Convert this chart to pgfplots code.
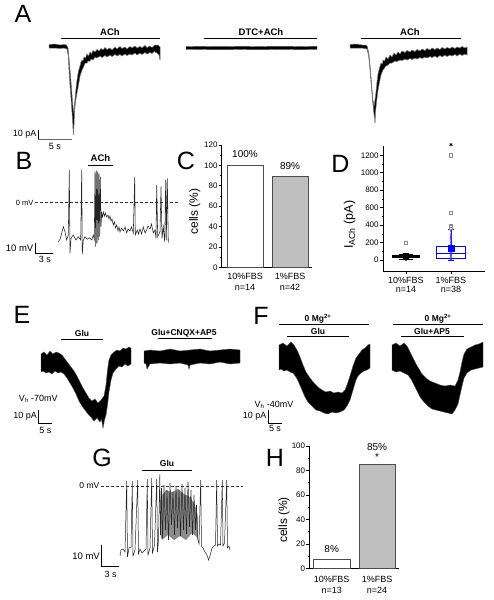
\documentclass[border=0pt]{standalone}
\usepackage{fontspec}
\setmainfont{Liberation Sans}
\usepackage{pgfplots}
\pgfplotsset{compat=1.18}
\usepgfplotslibrary{statistics}
\tikzset{
 plab/.style={font=\fontsize{25}{25}\selectfont, inner sep=0pt},
 blab/.style={font=\fontsize{9.5}{10}\selectfont\bfseries, inner sep=0pt},
 glab/.style={font=\fontsize{8.5}{9}\selectfont\bfseries, inner sep=0pt},
 slab/.style={font=\fontsize{9}{9}\selectfont, inner sep=0pt},
}
\pgfplotsset{
 smallax/.style={scale only axis, axis lines*=left, axis line style={-, black, line width=0.7pt},
   tick align=outside, major tick length=3pt, minor tick length=1.8pt,
   tick style={black, line width=0.6pt},
   /pgf/number format/assume math mode=true,
   /pgf/number format/1000 sep={},
   yticklabel style={font=\fontsize{8}{8}\selectfont, inner sep=1pt},
   xticklabel style={align=center, font=\fontsize{9}{10.5}\selectfont, inner sep=0pt},
   clip=false},
}
\begin{document}
\begin{tikzpicture}
% ---------------- canvas for traces ----------------
\begin{axis}[at={(0pt,0pt)}, anchor=south west, width=493pt, height=600pt, scale only axis,
  xmin=0, xmax=493, ymin=0, ymax=600, y dir=reverse, hide axis, clip=false]
% ===== A =====
\node[plab] at (axis cs:23,14) {A};
\addplot[black, line width=0.9pt] coordinates {(61,38.3)(160,38.3)};
\node[blab] at (axis cs:110,32.5) {ACh};
\addplot[black, line width=0.9pt] coordinates {(204,38.3)(317,38.3)};
\node[blab] at (axis cs:261,32.5) {DTC+ACh};
\addplot[black, line width=0.9pt] coordinates {(361,38.3)(461,38.3)};
\node[blab] at (axis cs:410,32.5) {ACh};
% trace A1
\addplot[fill=black, draw=black!55, line width=0.5pt] coordinates {
(49,44.5)(55,44)(60,45)(64,44.5)(66.5,45)(68,48)(69,58)(70,70)(71,82)(72,95)(73,108)(73.7,112)(74.5,104)(75.5,94)(76.5,84)(77.5,77)(78.5,71)(80,66)(81,62)(82,60)(83,61)(84,57)(85.5,58)(87,54)(88.5,56)(90,52)(91.5,54)(93,50.5)(95,52)(97,49.5)(99,51)(101,48.5)(103,50)(105,47.5)(107,49.5)(110,48)(112,50)(115,47)(117,49)(120,46.5)(122,48.5)(125,47)(127,49)(130,46.5)(132,48)(135,46)(137,48)(140,46.5)(142,48)(145,45.5)(147,47.5)(150,46)(152,47.5)(155,45)(158,45)(160,47)
(160,60)(159,55)(157,53)(154,51.5)(152,53.5)(150,52.5)(147,54)(145,52.5)(142,54.5)(140,53)(137,55)(135,53)(132,55)(130,54)(127,55.5)(125,54)(122,56)(120,54.5)(117,56)(115,54.5)(112,56.5)(110,55)(107,57)(105,55.5)(102,57.5)(100,56)(97,58)(95,57)(93,60)(91,59)(90,61)(88,61)(87,63)(85,63)(84,66)(82,70)(80,76)(78.5,85)(77,93)(75.5,102)(74.5,112)(74,125)(73.3,135)(72.7,122)(72,112)(71,98)(70,85)(69,70)(68.3,56)(67,49)(64,48)(60,48.5)(55,48)(49,48)} -- cycle;
% trace A2
\addplot[fill=black, draw=black!70, line width=0.4pt] coordinates {
(186,46.6)(200,46.4)(220,46.7)(240,46.4)(260,46.6)(280,46.3)(300,46.6)(317,46.4)
(317,49.4)(300,49.6)(280,49.3)(260,49.7)(240,49.4)(220,49.7)(200,49.4)(186,49.5)} -- cycle;
% trace A3
\addplot[fill=black, draw=black!55, line width=0.5pt] coordinates {
(350,44.5)(356,44)(362,45)(366,45)(367.5,47)(369,55)(370,65)(371,77)(372,90)(373,100)(374,106)(375,100)(376,92)(377,82)(378,74)(379.5,68)(381,63)(382.5,64)(383,60)(384.5,61)(386,57)(388,59)(390,55)(392,57)(394,53)(396,55)(398,52)(400,54)(402,51)(405,52.5)(407,50.5)(410,52)(412,50)(415,51.5)(417,49.5)(420,51)(422,49)(425,50.5)(427,48.5)(430,50)(432,48)(435,49.5)(437,48)(440,49.5)(442,47.5)(445,49)(447,47.5)(450,48.5)(452,47)(455,48.5)(457,47)(460,48)(462,46.5)(465,48)(467,47)
(467,55)(465,54)(462,55.5)(460,54)(457,56)(455,54.5)(452,56)(450,55)(447,56.5)(445,55)(442,57)(440,55.5)(437,57.5)(435,56)(432,57.5)(430,56.5)(427,58)(425,57)(422,58.5)(420,57.5)(417,59)(415,58)(412,59.5)(410,58.5)(407,60)(405,59)(402,60.5)(400,60)(397,61.5)(395,61)(392,63)(390,63)(388,65)(386,66)(383,70)(381,75)(379.5,82)(378,90)(376.5,102)(375.5,112)(375,123)(374.5,118)(373.5,110)(372.5,100)(371.5,88)(370.5,76)(369.5,64)(368.5,55)(367,49)(362,48)(356,48)(350,48)} -- cycle;
% scale A
\addplot[black, line width=0.8pt] coordinates {(38.3,130)(38.3,139.3)};
\addplot[black!60, line width=0.8pt] coordinates {(38.3,139.3)(72.3,139.3)};
\node[slab, anchor=east] at (axis cs:36.5,134.5) {10 pA};
\node[slab] at (axis cs:55,146.7) {5 s};
% ===== B =====
\node[plab] at (axis cs:24,161) {B};
\addplot[black, line width=0.9pt] coordinates {(88,165)(113,165)};
\node[blab] at (axis cs:100.5,158.5) {ACh};
\addplot[black!80, line width=0.6pt, dash pattern=on 3pt off 2pt] coordinates {(35,202.7)(178,202.7)};
\node[font=\fontsize{7.5}{8}\selectfont, inner sep=0pt, anchor=east] at (axis cs:33.5,202.7) {0 mV};
\addplot[black!85, line width=0.55pt] coordinates {
(58.3,241.7)(60,239.3)(61.7,233.3)(63.3,226.7)(65,231.7)(66.7,240)(68.3,235)(69.3,170)(70,253.3)(71,238.3)(73.3,235)(76,240)(78.3,236.7)(80.7,240)(81.7,170)(82.3,254)(83.3,240)(85,236.7)(87.3,239.3)(89.3,237.7)(91.7,240)(93.3,235)(94.3,239.3)(95,171.7)(95.7,246.7)(96.3,170.7)(97,243.3)(97.7,171.7)(98.3,240)(99,173.3)(99.7,236.7)(100.3,176.7)(101,226.7)(101.7,213.3)(102.5,217)(103.3,212)(104.5,216)(105.5,213)(106.7,217)(108,215)(109,219)(110,216)(111,221)(112,219)(113.3,225)(114.5,222)(115.5,228)(116.7,225)(118,231)(119,227)(120,232)(121.5,228)(123.3,231)(125,227)(126.7,233)(128,229)(130,231)(131.5,227)(133.3,233)(134.7,176.7)(135.3,235)(137.3,230)(138.5,234)(140,229)(141.5,234)(143.3,227)(145,233)(146.7,230)(148,226)(150,229)(151.5,224)(153.3,233)(155,230)(156,238.3)(156.7,185)(157.7,236.7)(160,231.7)(161,186.7)(162,238.3)(163.3,226.7)(164.7,241.7)(165.7,180)(166.3,240)(167.3,178.3)(168.3,242.7)};
\addplot[black, line width=0.8pt] coordinates {(35,242.7)(35,253.3)(53.3,253.3)};
\node[slab, anchor=east, font=\fontsize{9.5}{10}\selectfont] at (axis cs:33.5,248.5) {10 mV};
\node[slab] at (axis cs:45,259.3) {3 s};
% ===== E =====
\node[plab] at (axis cs:22,315) {E};
\addplot[black, line width=0.9pt] coordinates {(61,339.3)(103,339.3)};
\node[glab] at (axis cs:82,333) {Glu};
\addplot[fill=black, draw=black!70, line width=0.4pt] coordinates {
(41,354)(44,352)(47,355)(50,351)(53,354)(56,352)(59,353)(62,355)(65,359)(68,363)(71,367)(74,371)(77,376)(80,382)(83,388)(86,393)(89,398)(92,401)(95,399)(98,403)(101,400)(104,396)(106,385)(107.5,370)(109,360)(111,355)(114,352)(117,350)(120,351)(123,348)(126,349)(129,347)(131,348)
(131,364)(128,366)(125,364)(122,367)(119,366)(116,369)(113,373)(111,380)(109,392)(107.5,405)(106,415)(104.5,420)(103,428)(101.5,419)(100,422)(97,418)(94,421)(91,417)(88,414)(85,410)(82,406)(79,401)(76,394)(73,388)(70,383)(67,378)(64,374)(61,372)(58,373)(55,371)(52,374)(49,372)(46,373)(43,371)(41,372)} -- cycle;
\addplot[black, line width=0.9pt] coordinates {(158,338.3)(212,338.3)};
\node[glab] at (axis cs:184,333) {Glu+CNQX+AP5};
\addplot[fill=black, draw=black!70, line width=0.4pt] coordinates {
(144,351)(150,350)(160,351)(170,349)(180,351)(190,350)(200,349)(210,351)(220,350)(230,349)(240,350)
(240,363)(230,364)(220,362)(210,364)(200,363)(190,365)(189,369)(188,365)(180,363)(170,364)(160,363)(150,364)(147,369)(146,364)(144,363)} -- cycle;
\node[slab] at (axis cs:38.3,399) {V\textsubscript{h} -70mV};
\addplot[black, line width=0.8pt] coordinates {(38.7,410)(38.7,423.3)(52,423.3)};
\node[slab, anchor=east] at (axis cs:37,416.7) {10 pA};
\node[slab] at (axis cs:45.5,430) {5 s};
% ===== F =====
\node[plab] at (axis cs:261,316) {F};
\addplot[black, line width=0.9pt] coordinates {(279,324.3)(369,324.3)};
\node[glab] at (axis cs:318,318.5) {0 Mg\textsuperscript{2+}};
\addplot[black, line width=0.9pt] coordinates {(287,336.7)(349,336.7)};
\node[glab] at (axis cs:318,331.2) {Glu};
\addplot[fill=black, draw=black!70, line width=0.4pt] coordinates {
(279,345)(283,343)(287,346)(291,342)(294,345)(297,350)(300,357)(303,365)(306,372)(310,378)(314,383)(318,387)(322,390)(326,392)(330,391)(334,393)(338,392)(342,393)(345,390)(347,385)(350,376)(353,366)(356,358)(359,354)(362,350)(365,348)(368,345)(370,344)
(370,368)(367,370)(364,371)(361,373)(358,376)(356,380)(353,390)(350,400)(347,406)(344,410)(340,412)(336,413)(332,412)(328,414)(324,413)(320,411)(316,410)(312,406)(308,402)(305,397)(302,390)(299,383)(296,377)(293,373)(290,372)(287,370)(284,371)(281,369)(279,370)} -- cycle;
\addplot[black, line width=0.9pt] coordinates {(393,324.3)(483,324.3)};
\node[glab] at (axis cs:438,318.5) {0 Mg\textsuperscript{2+}};
\addplot[black, line width=0.9pt] coordinates {(401,336.7)(464,336.7)};
\node[glab] at (axis cs:432,331.2) {Glu+AP5};
\addplot[fill=black, draw=black!70, line width=0.4pt] coordinates {
(392,345)(396,343)(400,346)(404,343)(407,346)(410,352)(413,358)(416,364)(419,369)(422,374)(426,378)(430,381)(435,383)(440,385)(445,386)(450,385)(455,386)(458,380)(460,372)(462,362)(464,354)(467,349)(471,347)(475,345)(479,344)(483,342)
(483,367)(479,368)(475,369)(471,370)(467,373)(464,378)(462,386)(460,395)(458,404)(455,410)(452,414)(448,413)(444,412)(440,411)(436,410)(432,409)(428,406)(424,402)(420,397)(417,391)(414,385)(411,379)(408,375)(404,373)(400,371)(396,372)(392,370)} -- cycle;
\node[slab] at (axis cs:274,405) {V\textsubscript{h} -40mV};
\addplot[black, line width=0.8pt] coordinates {(268,410)(268,423)(282,423)};
\node[slab, anchor=east] at (axis cs:266.5,416.7) {10 pA};
\node[slab] at (axis cs:275,428.5) {5 s};
% ===== G =====
\node[plab] at (axis cs:102,458) {G};
\addplot[black, line width=0.9pt] coordinates {(141.7,470.7)(192,470.7)};
\node[glab] at (axis cs:167,463) {Glu};
\addplot[black!80, line width=0.6pt, dash pattern=on 3pt off 2pt] coordinates {(100.7,486)(242.7,486)};
\node[font=\fontsize{8.5}{9}\selectfont, inner sep=0pt, anchor=east] at (axis cs:99.5,486) {0 mV};
\addplot[fill=black!45, draw=none] coordinates {(160.5,497)(166,490)(172,492)(178,489)(184,494)(190,497)(195,505)(198,518)(198,538)(192,533)(186,540)(180,536)(174,540)(168,535)(162,540)(160.5,536)} -- cycle;
\addplot[black!85, line width=0.5pt] coordinates {
(120,556)(121,550)(123,549)(125,552)(126.7,481)(127.5,557)(129,548)(131,547)(132.3,481)(133,556)(135,550)(137.7,480)(138.5,554)(140,549)(142,553)(144,551)(146,549)(147.3,479)(148,555)(150,548)(151.7,478)(152.5,553)(154.5,545)(156.7,479)(157.5,552)(158.5,540)(159.8,474)(160.5,535)
(161.5,488)(162.5,538)(164,485)(165.5,530)(167,490)(168.5,540)(170,483)(171.5,525)(173,492)(174.5,535)(176,486)(177.5,528)(179,490)(180.5,536)(182,484)(183.5,530)(185,488)(186.5,534)(188,482)(189.5,527)(191,490)(192.5,535)(194,495)(195.5,530)(196.5,505)(197.5,538)(199,544)(200.7,480)(201.5,546)(203,548)(205,552)(207,555)(208.5,560)(210,556)(212,548)(214,546)(215.5,545)(216.7,480)(217.5,546)(219,544)(220.5,545)(222.3,480)(223,546)(224.5,543)(226.7,480)(227.5,548)(229,546)(230,550)};
\addplot[black, line width=0.8pt] coordinates {(101.7,545)(101.7,566)(119.3,566)};
\node[slab, anchor=east, font=\fontsize{9.5}{10}\selectfont] at (axis cs:100,556) {10 mV};
\node[slab] at (axis cs:110.7,574) {3 s};
% letters C D H
\node[plab] at (axis cs:186,161) {C};
\node[plab] at (axis cs:340.5,164) {D};
\node[plab] at (axis cs:275,458) {H};
\end{axis}
% ---------------- C ----------------
\begin{axis}[smallax, at={(221.7pt,332.7pt)}, anchor=south west, width=90pt, height=122.3pt,
  xmin=-0.518, xmax=1.482, ymin=0, ymax=120, ytick={0,20,...,120}, minor y tick num=1,
  xtick={0,1}, xticklabels={{10\%FBS\\n=14},{1\%FBS\\n=42}}, x tick style={draw=none},
  xticklabel style={yshift=-3pt},
  ylabel={cells (\%)},
  every axis y label/.style={at={(axis description cs:-0.3,0.455)}, rotate=90, anchor=center, font=\fontsize{12}{12}\selectfont}]
\addplot[ybar, bar width=0.8, bar shift=0pt, fill=white, draw=black!70, line width=0.8pt] coordinates {(0,100)};
\addplot[ybar, bar width=0.8, bar shift=0pt, fill=black!25, draw=black!70, line width=0.8pt] coordinates {(1,89)};
\node[font=\fontsize{10}{10}\selectfont, inner sep=0pt] at (axis cs:0,111.5) {100\%};
\node[font=\fontsize{10}{10}\selectfont, inner sep=0pt] at (axis cs:1,99.4) {89\%};
\end{axis}
% ---------------- D ----------------
\begin{axis}[smallax, at={(383.3pt,329pt)}, anchor=south west, width=101.7pt, height=125pt,
  xmin=-0.504, xmax=1.756, ymin=-126, ymax=1307, ytick={0,200,...,1200}, minor y tick num=1,
  boxplot/draw direction=y,
  xtick={0,1}, xticklabels={{10\%FBS\\n=14},{1\%FBS\\n=38}}, major tick length=3.5pt,
  xticklabel style={font=\fontsize{9}{8.6}\selectfont, yshift=-3pt},
  ylabel={I\textsubscript{ACh} (pA)},
  every axis y label/.style={at={(axis description cs:-0.33,0.37)}, rotate=90, anchor=center, font=\fontsize{12.5}{12.5}\selectfont}]
\addplot[boxplot prepared={draw position=0, lower whisker=5, lower quartile=27, median=40, upper quartile=52, upper whisker=62, box extend=0.59, whisker extend=0.3}, draw=black, fill=black!55, line width=0.7pt] coordinates {};
\addplot[boxplot prepared={draw position=1, lower whisker=0, lower quartile=23, median=76, upper quartile=160, upper whisker=352, box extend=0.63, whisker extend=0.15}, draw=blue, line width=0.7pt] coordinates {};
\addplot[only marks, mark=square, mark size=1.6pt, black!45, mark options={line width=0.5pt}] coordinates {(0,195)(1,375)(1,392)(1,545)(1,1200)};
\addplot[only marks, mark=x, mark size=1.4pt, blue!80, mark options={line width=0.4pt}] coordinates {(0,0)(1,0)(1,15)(1,30)(1,45)(1,60)(1,90)(1,110)(1,130)(1,170)(1,190)(1,210)(1,235)(1,255)(1,275)(1,300)(1,330)};
\addplot[only marks, mark=square*, mark size=2.7pt, black] coordinates {(0,45)};
\addplot[only marks, mark=square*, mark size=3pt, blue] coordinates {(1,138)};
\addplot[only marks, mark=asterisk, mark size=1.8pt, black, mark options={line width=0.6pt}] coordinates {(1,1322)};
\end{axis}
% ---------------- H ----------------
\begin{axis}[smallax, at={(309.3pt,31.7pt)}, anchor=south west, width=90pt, height=122.3pt,
  xmin=-0.494, xmax=1.492, ymin=0, ymax=100, ytick={0,20,...,100}, minor y tick num=1,
  xtick={0,1}, xticklabels={{10\%FBS\\n=13},{1\%FBS\\n=24}}, x tick style={draw=none},
  xticklabel style={font=\fontsize{9}{11.7}\selectfont, yshift=-4.5pt},
  ylabel={cells (\%)},
  every axis y label/.style={at={(axis description cs:-0.281,0.395)}, rotate=90, anchor=center, font=\fontsize{12}{12}\selectfont}]
\addplot[ybar, bar width=0.81, bar shift=0pt, fill=white, draw=black!70, line width=0.8pt] coordinates {(0,7.6)};
\addplot[ybar, bar width=0.79, bar shift=0pt, fill=black!25, draw=black!70, line width=0.8pt] coordinates {(1,84.6)};
\node[font=\fontsize{10}{10}\selectfont, inner sep=0pt] at (axis cs:0,15.5) {8\%};
\node[font=\fontsize{10}{10}\selectfont, inner sep=0pt] at (axis cs:1,99.2) {85\%};
\node[font=\fontsize{10}{10}\selectfont, inner sep=0pt] at (axis cs:1,91) {*};
\end{axis}
\pgfresetboundingbox
\path (0pt,0pt) rectangle (493pt,600pt);
\end{tikzpicture}
\end{document}
